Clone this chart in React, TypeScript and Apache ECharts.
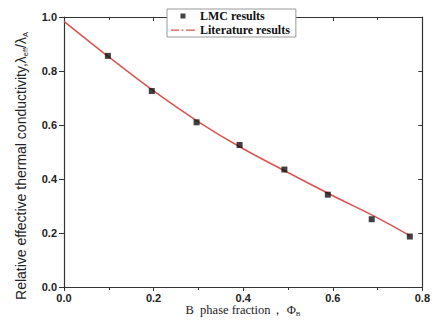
import React, { useEffect, useRef } from "react";
import * as echarts from "echarts";

const lmcX = [0.098, 0.196, 0.296, 0.392, 0.492, 0.589, 0.687, 0.772];
const lmcY = [0.856, 0.726, 0.61, 0.526, 0.435, 0.342, 0.251, 0.187];
const litX = [0.0, 0.1, 0.2, 0.3, 0.4, 0.5, 0.6, 0.7, 0.772];
const litY = [0.984, 0.852, 0.726, 0.612, 0.512, 0.424, 0.338, 0.256, 0.19];

const SQUARE_ICON = "path://M0,0h0.01v0.01h-0.01z M24,10h0.01v0.01h-0.01z M9.5,2.5h5v5h-5z";
const DASHDOT_ICON = "path://M0,0h0.01v0.01h-0.01z M24,10h0.01v0.01h-0.01z M0,4.5h8v1.2h-8z M10.5,4.5h2v1.2h-2z M15,4.5h9v1.2h-9z";

export default function App() {
  const ref = useRef<HTMLDivElement>(null);
  useEffect(() => {
    const chart = echarts.init(ref.current!, null, { renderer: "svg" });
    const axisColor = "#333";
    const tickLbl = { fontFamily: "Liberation Sans, Arial", fontWeight: "bold" as const, fontSize: 11, color: "#222" };
    chart.setOption({
      animation: false,
      backgroundColor: "#fff",
      grid: { left: 64, right: 9, top: 17, bottom: 39 },
      legend: {
        left: 167,
        top: 9,
        orient: "vertical",
        itemGap: 2,
        itemWidth: 24,
        itemHeight: 10,
        padding: [1, 6, 1, 4],
        borderColor: "#999",
        borderWidth: 1,
        backgroundColor: "#fff",
        textStyle: { fontFamily: "Liberation Serif, Times New Roman", fontWeight: "bold", fontSize: 12, color: "#111" },
        data: [
          { name: "LMC results", icon: SQUARE_ICON, itemStyle: { color: "#111" } },
          { name: "Literature results", icon: DASHDOT_ICON, itemStyle: { color: "#d9534f" } },
        ],
      },
      graphic: [
        {
          type: "text",
          x: 21,
          y: 166,
          rotation: Math.PI / 2,
          style: {
            text: "Relative effective thermal conductivity,\u03BB{sub|eff}/\u03BB{sub|A}",
            fontFamily: "Liberation Sans, Arial",
            fontSize: 14,
            fill: "#222",
            align: "center",
            verticalAlign: "middle",
            rich: { sub: { fontSize: 7.5, fill: "#222", padding: [8, 0, 0, 0], fontFamily: "Liberation Sans, Arial" } },
          },
        },
        {
          type: "text",
          x: 243,
          y: 310,
          style: {
            text: "B  phase fraction\uFF0C \u03A6{sub|B}",
            fontFamily: "Liberation Serif, Times New Roman",
            fontSize: 12.5,
            fill: "#222",
            align: "center",
            verticalAlign: "middle",
            rich: { sub: { fontSize: 7, fill: "#222", padding: [7, 0, 0, 0], fontFamily: "Liberation Serif" } },
          },
        },
      ],
      xAxis: [
        {
          type: "value",
          min: 0,
          max: 0.8,
          interval: 0.2,
          axisLine: { show: true, onZero: false, lineStyle: { color: axisColor, width: 1.2 } },
          axisTick: { show: true, inside: false, length: 4, lineStyle: { color: axisColor } },
          minorTick: { show: true, splitNumber: 2, length: 3, lineStyle: { color: axisColor } },
          axisLabel: { ...tickLbl, margin: 5, formatter: (v: number) => v.toFixed(1) },
          splitLine: { show: false },
        },
        {
          type: "value",
          position: "top",
          min: 0,
          max: 0.8,
          interval: 0.2,
          axisLine: { show: true, onZero: false, lineStyle: { color: axisColor, width: 1.2 } },
          axisTick: { show: true, inside: true, length: 4, lineStyle: { color: axisColor } },
          minorTick: { show: true, splitNumber: 2, length: 3, lineStyle: { color: axisColor } },
          axisLabel: { show: false },
          splitLine: { show: false },
        },
      ],
      yAxis: [
        {
          type: "value",
          min: 0,
          max: 1.0,
          interval: 0.2,
          axisLine: { show: true, onZero: false, lineStyle: { color: axisColor, width: 1.2 } },
          axisTick: { show: true, inside: false, length: 5, lineStyle: { color: axisColor } },
          minorTick: { show: false },
          axisLabel: { ...tickLbl, margin: 7, formatter: (v: number) => v.toFixed(1) },
          splitLine: { show: false },
        },
        {
          type: "value",
          position: "right",
          min: 0,
          max: 1.0,
          interval: 0.2,
          axisLine: { show: true, onZero: false, lineStyle: { color: axisColor, width: 1.2 } },
          axisTick: { show: true, inside: true, length: 4, lineStyle: { color: axisColor } },
          axisLabel: { show: false },
          splitLine: { show: false },
        },
      ],
      series: [
        {
          name: "Literature results",
          type: "line",
          smooth: 0.3,
          symbol: "none",
          data: litX.map((x, i) => [x, litY[i]]),
          lineStyle: { color: "#d9534f", width: 1.5 },
          itemStyle: { color: "#d9534f" },
          z: 2,
        },
        {
          name: "LMC results",
          type: "scatter",
          symbol: "rect",
          symbolSize: 6,
          data: lmcX.map((x, i) => [x, lmcY[i]]),
          itemStyle: { color: "#111" },
          z: 3,
        },
      ],
    });
    return () => chart.dispose();
  }, []);
  return <div ref={ref} style={{ position: "absolute", left: 0, top: 0, width: 433, height: 326 }} />;
}
